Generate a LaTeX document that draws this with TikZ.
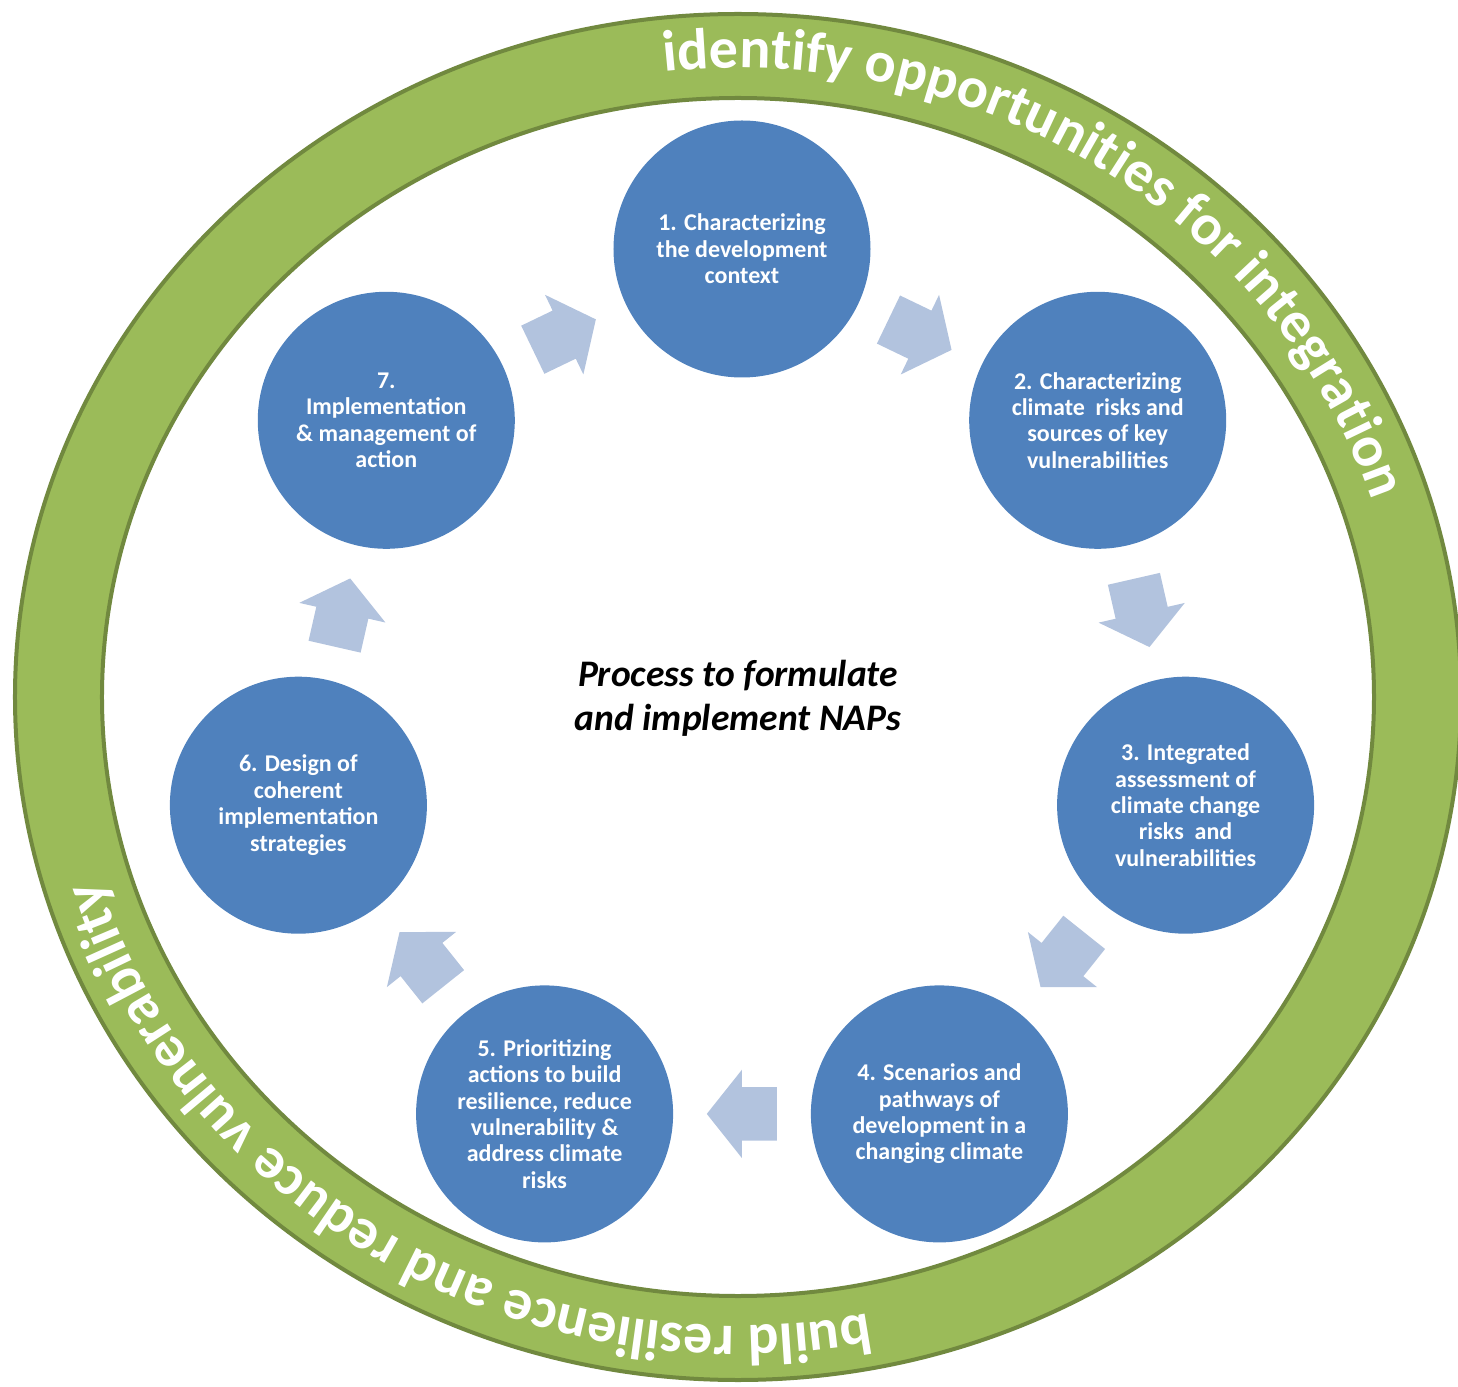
\documentclass[tikz,border=0pt]{standalone}
\usepackage{fontspec}
\setmainfont{Carlito}
\usetikzlibrary{shapes.arrows,decorations.text,calc}
\definecolor{circblue}{HTML}{4F81BD}
\definecolor{arrowblue}{HTML}{B2C3DE}
\definecolor{ringgreen}{HTML}{9BBB59}
\definecolor{ringedge}{HTML}{71893F}
\newcommand\ringfont{\fontsize{58}{62}\selectfont\bfseries}

\begin{document}
\begin{tikzpicture}[x=1pt,y=1pt,
  stepcirc/.style={circle,fill=circblue,minimum size=257,inner sep=0,text=white,
    align=center,font=\fontsize{24}{26.4}\selectfont\bfseries},
  steparrow/.style={single arrow,fill=arrowblue,minimum height=70,inner xsep=0,
    inner ysep=26.5,single arrow head extend=17.5,single arrow tip angle=103,anchor=tail}]

\useasboundingbox (-738,-689) rectangle (720,697);

% green ring
\fill[ringgreen,even odd rule] (0,0) ellipse[x radius=723,y radius=683]
  (0,0) ellipse[x radius=636,y radius=599];
\draw[ringedge,line width=4] (0,0) ellipse[x radius=723,y radius=683];
\draw[ringedge,line width=4] (0,0) ellipse[x radius=636,y radius=599];

\path[decorate,decoration={text along path,text color=white,text align=center,
  text={|\ringfont|identify opportunities for integration}}]
  (136.35:667 and 629) arc[start angle=136.35,end angle=-23.65,x radius=667,y radius=629];
\path[decorate,decoration={text along path,text color=white,text align=center,
  text={|\ringfont|build resilience and reduce vulnerability}}]
  (-41.7:667 and 629) arc[start angle=-41.7,end angle=-201.7,x radius=667,y radius=629];

% centre
\node[font=\fontsize{37.5}{44}\selectfont\bfseries\itshape,align=center] (title) at (0,-1)
  {Process to formulate\\and implement NAPs};

% steps
\node[stepcirc] (c1) at (4,448) {1. Characterizing\\the development\\context};
\node[stepcirc] (c2) at (359.7,276.7) {2. Characterizing\\climate~ risks and\\sources of key\\vulnerabilities};
\node[stepcirc] (c3) at (447.6,-108.2) {3. Integrated\\assessment of\\climate change\\risks~ and\\vulnerabilities};
\node[stepcirc] (c4) at (201.4,-416.9) {4. Scenarios and\\pathways of\\development in a\\changing climate};
\node[stepcirc] (c5) at (-193.4,-416.9) {5. Prioritizing\\actions to build\\resilience, reduce\\vulnerability \&\\address climate\\risks};
\node[stepcirc] (c6) at (-439.6,-108.2) {6. Design of\\coherent\\implementation\\strategies};
\node[stepcirc] (c7) at (-351.7,276.7) {7.\\Implementation\\\& management of\\action};

% arrows between steps
\node[steparrow,rotate=-25.71] (a12) at ($(c1)!0.5!(c2)!35pt!(c1)$) {};   % 1-2
\node[steparrow,rotate=-77.14] (a23) at ($(c2)!0.5!(c3)!35pt!(c2)$) {};   % 2-3
\node[steparrow,rotate=-128.57] (a34) at ($(c3)!0.5!(c4)!35pt!(c3)$) {};  % 3-4
\node[steparrow,rotate=180] (a45) at ($(c4)!0.5!(c5)!35pt!(c4)$) {};      % 4-5
\node[steparrow,rotate=128.57] (a56) at ($(c5)!0.5!(c6)!35pt!(c5)$) {};   % 5-6
\node[steparrow,rotate=77.14] (a67) at ($(c6)!0.5!(c7)!35pt!(c6)$) {};    % 6-7
\node[steparrow,rotate=25.71] (a71) at ($(c7)!0.5!(c1)!35pt!(c7)$) {};    % 7-1

\end{tikzpicture}
\end{document}
